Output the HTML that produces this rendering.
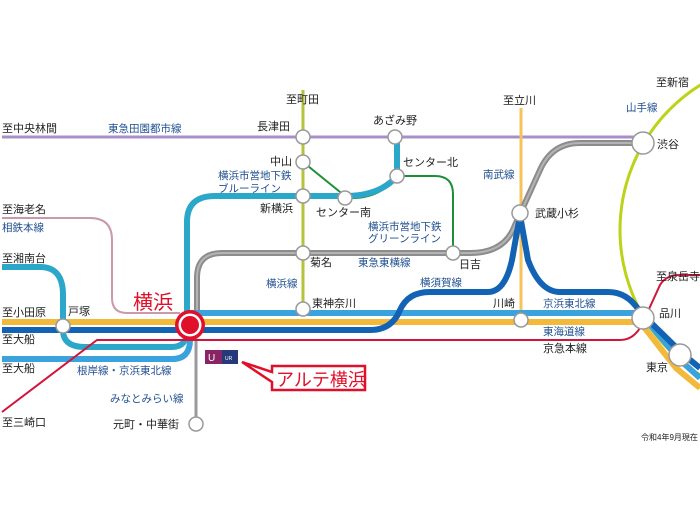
<!DOCTYPE html>
<html><head><meta charset="utf-8"><style>
html,body{margin:0;padding:0;background:#fff;width:700px;height:525px;overflow:hidden}
svg text{font-family:"Liberation Sans","Noto Sans CJK JP",sans-serif;font-size:11px;fill:#222}
svg text.l{fill:#1f4f8f;font-size:10.5px}
</style></head><body>
<svg width="700" height="525" viewBox="0 0 700 525" xmlns="http://www.w3.org/2000/svg">
<g fill="none" stroke-linecap="butt">
<!-- Yamanote -->
<circle cx="791" cy="230" r="171" stroke="#bcd31a" stroke-width="3"/>
<!-- Den-en-toshi -->
<line x1="2" y1="137" x2="640" y2="137" stroke="#a98fc9" stroke-width="3"/>
<!-- Yokohama line -->
<line x1="303" y1="90" x2="303" y2="309" stroke="#b5c23a" stroke-width="3"/>
<!-- Nambu -->
<line x1="521" y1="108" x2="521" y2="320" stroke="#f5c35a" stroke-width="3"/>
<!-- Sotetsu -->
<path d="M2 218 H90 Q112 218 112 240 V298 Q112 313 127 313 H180" stroke="#c99aaa" stroke-width="2"/>
<!-- Green line -->
<path d="M303 162 L345 196" stroke="#1c8f3a" stroke-width="2"/>
<path d="M345 198 Q380 200 397 176 M397 176 H435 Q453 176 453 194 V253" stroke="#1c8f3a" stroke-width="2"/>
<!-- Blue line subway -->
<path d="M2 267 H40 Q63 267 63 295 V330 Q63 347 85 347 H172 Q187 347 187 330 V222 Q187 196 215 196 H345 Q380 196 397 176 V137" stroke="#2aa7c9" stroke-width="6"/>
<!-- Toyoko -->
<path d="M197 325 V278 Q197 253 222 253 H470 Q505 253 515 225 L540 170 Q552 143 580 143 H638" stroke="#8c8c8c" stroke-width="6"/>
<path d="M197 325 V278 Q197 253 222 253 H470 Q505 253 515 225 L540 170 Q552 143 580 143 H638" stroke="#b4b4b4" stroke-width="2"/>
<!-- Minatomirai -->
<line x1="196" y1="330" x2="196" y2="424" stroke="#9a9a9a" stroke-width="3"/>
<!-- Keihin-Tohoku / Negishi -->
<path d="M2 359 H172 Q190 359 190 340 M190 313 H640 L680 360 L700 378" stroke="#3aa3dd" stroke-width="6"/>
<!-- Tokaido -->
<path d="M2 322 H640 L676 368 L700 388" stroke="#f2b93b" stroke-width="6"/>
<!-- Yokosuka -->
<path d="M2 330 H370 Q392 330 400 310 Q408 292 430 292 H488 Q505 292 512 260 L520 215 L528 260 Q540 292 560 292 H608 Q628 292 640 312 L684 355 L700 368" stroke="#1363b5" stroke-width="6"/>
<!-- Keikyu -->
<path d="M2 412 L97 340 H620 Q636 340 644 320 L660 285 Q666 275 680 275 H700" stroke="#d2143a" stroke-width="2"/>
</g>
<!-- stations -->
<g fill="#fff" stroke="#999" stroke-width="1.5">
<circle cx="303" cy="137" r="7"/><circle cx="395" cy="137" r="7"/>
<circle cx="303" cy="162" r="7"/><circle cx="303" cy="196" r="7"/>
<circle cx="345" cy="198" r="7"/><circle cx="397" cy="176" r="7"/>
<circle cx="303" cy="253" r="7"/><circle cx="453" cy="253" r="7"/>
<circle cx="520" cy="213" r="8"/><circle cx="303" cy="309" r="7"/>
<circle cx="521" cy="320" r="7"/><circle cx="63" cy="326" r="7"/>
<circle cx="196" cy="424" r="7"/>
<circle cx="643" cy="143" r="11"/><circle cx="643" cy="318" r="11"/><circle cx="680" cy="355" r="11"/>
</g>
<circle cx="190" cy="325" r="15" fill="#e0102a"/>
<circle cx="190" cy="325" r="11.5" fill="#fff"/>
<circle cx="190" cy="325" r="9" fill="#e0102a"/>
<!-- logo -->
<rect x="205" y="350" width="17" height="14" fill="#8a2565"/>
<rect x="222" y="350" width="16" height="14" fill="#243a7a"/>
<text x="208" y="361" style="font-size:10px;fill:#fff">U</text>
<text x="225" y="360" style="font-size:5px;fill:#fff">UR</text>
<!-- callout -->
<path d="M242 362 L272 372 L272 366 L365 366 L365 390 L272 390 L272 382 Z" fill="#fff" stroke="#e0102a" stroke-width="2.5"/>
<text x="276" y="386" style="font-size:18px;fill:#e0102a">アルテ横浜</text>
<text x="133" y="309" style="font-size:20px;fill:#e0102a">横浜</text>
<!-- labels -->
<text x="286" y="103">至町田</text>
<text x="2" y="132">至中央林間</text>
<text class="l" x="108" y="132">東急田園都市線</text>
<text x="257" y="130">長津田</text>
<text x="373" y="124">あざみ野</text>
<text x="270" y="165">中山</text>
<text class="l" x="218" y="179">横浜市営地下鉄</text>
<text class="l" x="218" y="192">ブルーライン</text>
<text x="260" y="212">新横浜</text>
<text x="316" y="216">センター南</text>
<text x="403" y="166">センター北</text>
<text x="503" y="104">至立川</text>
<text class="l" x="483" y="178">南武線</text>
<text x="535" y="217">武蔵小杉</text>
<text class="l" x="368" y="230">横浜市営地下鉄</text>
<text class="l" x="368" y="242">グリーンライン</text>
<text class="l" x="358" y="266">東急東横線</text>
<text x="459" y="268">日吉</text>
<text x="656" y="86">至新宿</text>
<text class="l" x="626" y="111">山手線</text>
<text x="657" y="148">渋谷</text>
<text x="2" y="213">至海老名</text>
<text class="l" x="2" y="231">相鉄本線</text>
<text x="2" y="262">至湘南台</text>
<text x="310" y="266">菊名</text>
<text class="l" x="266" y="287">横浜線</text>
<text class="l" x="420" y="286">横須賀線</text>
<text x="312" y="307">東神奈川</text>
<text x="493" y="307">川崎</text>
<text class="l" x="543" y="307">京浜東北線</text>
<text x="656" y="280">至泉岳寺</text>
<text x="659" y="317">品川</text>
<text class="l" x="543" y="335">東海道線</text>
<text x="543" y="352">京急本線</text>
<text x="646" y="371">東京</text>
<text x="2" y="316">至小田原</text>
<text x="68" y="315">戸塚</text>
<text x="2" y="343">至大船</text>
<text x="2" y="372">至大船</text>
<text class="l" x="77" y="374">根岸線・京浜東北線</text>
<text class="l" x="110" y="402">みなとみらい線</text>
<text x="2" y="426">至三崎口</text>
<text x="113" y="428">元町・中華街</text>
<text x="641" y="440" style="font-size:8px">令和4年9月現在</text>
</svg>
</body></html>
